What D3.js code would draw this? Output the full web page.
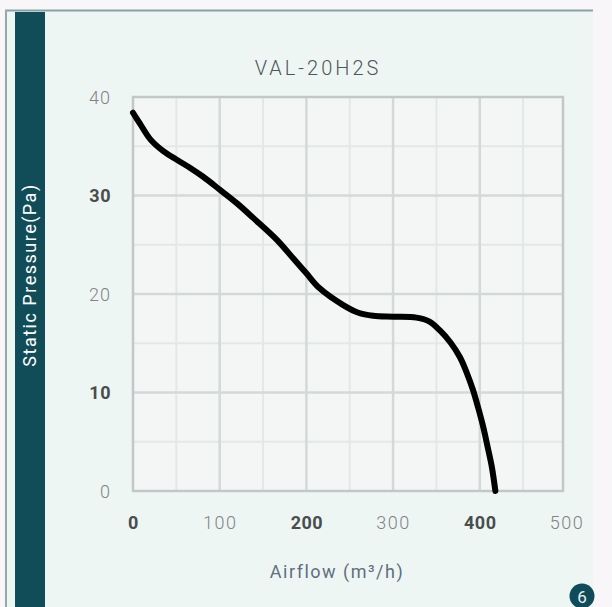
<!DOCTYPE html>
<html>
<head>
<meta charset="utf-8">
<script src="https://cdn.jsdelivr.net/npm/d3@7"></script>
<style>
  html, body { margin: 0; padding: 0; background: #f9f6fa; }
  svg { display: block; }
</style>
</head>
<body>
<svg id="chart" width="612" height="607"></svg>
<script>
// ---- data ----
const title = "VAL-20H2S";
const xLabel = "Airflow (m\u00B3/h)";
const yLabel = "Static Pressure(Pa)";
const xTicks = [0, 100, 200, 300, 400, 500];
const yTicks = [0, 10, 20, 30, 40];
const boldTicksX = [0, 200, 400];
const boldTicksY = [10, 30];
const airflow  = [0,    8,    20,   35,   51,   66,   81,   100,  120,  139,  166,  185,  200,  215,  242,  260,  277,  300,  327,  342,  354,  366,  377,  385,  392,  398,  404,  409,  414,  418];
const pressure = [38.4, 37.3, 35.7, 34.5, 33.6, 32.8, 31.9, 30.6, 29.2, 27.7, 25.5, 23.6, 22.1, 20.6, 18.9, 18.1, 17.8, 17.7, 17.6, 17.2, 16.3, 15.1, 13.6, 12.0, 10.3, 8.5,  6.5,  4.5,  2.4,  0.0];

// ---- layout ----
const svg = d3.select("#chart");
const W = 612, H = 607;
const plot = { left: 133, right: 563, top: 97, bottom: 491 };
const FONT = "Roboto, 'DejaVu Sans', sans-serif";

const x = d3.scaleLinear().domain([0, 496]).range([plot.left, plot.right]);
const y = d3.scaleLinear().domain([0, 40]).range([plot.bottom, plot.top]);

// card background
svg.append("rect").attr("x", 5).attr("y", 10).attr("width", 588).attr("height", H - 10)
  .attr("fill", "#eef6f4");
svg.append("line").attr("x1", 5).attr("x2", 593).attr("y1", 10.5).attr("y2", 10.5)
  .attr("stroke", "#86a3a3").attr("stroke-width", 2);
svg.append("line").attr("x1", 6).attr("x2", 6).attr("y1", 10).attr("y2", H)
  .attr("stroke", "#93aaa8").attr("stroke-width", 2);
// dark side bar
svg.append("rect").attr("x", 15).attr("y", 12).attr("width", 30).attr("height", H - 12)
  .attr("fill", "#114d59");

// plot area
svg.append("rect").attr("x", plot.left).attr("y", plot.top)
  .attr("width", plot.right - plot.left).attr("height", plot.bottom - plot.top)
  .attr("fill", "#f3f6f5");

// minor grid
const minorX = d3.range(50, 500, 100);
const minorY = d3.range(5, 40, 10);
svg.append("g").selectAll("line").data(minorX).join("line")
  .attr("x1", d => x(d)).attr("x2", d => x(d)).attr("y1", plot.top).attr("y2", plot.bottom)
  .attr("stroke", "#e3e8e7").attr("stroke-width", 2);
svg.append("g").selectAll("line").data(minorY).join("line")
  .attr("y1", d => y(d)).attr("y2", d => y(d)).attr("x1", plot.left).attr("x2", plot.right)
  .attr("stroke", "#e3e8e7").attr("stroke-width", 2);
// major grid
svg.append("g").selectAll("line").data(xTicks.filter(d => d > 0 && d < 500)).join("line")
  .attr("x1", d => x(d)).attr("x2", d => x(d)).attr("y1", plot.top).attr("y2", plot.bottom)
  .attr("stroke", "#d4d9d8").attr("stroke-width", 2.5);
svg.append("g").selectAll("line").data(yTicks.filter(d => d > 0 && d < 40)).join("line")
  .attr("y1", d => y(d)).attr("y2", d => y(d)).attr("x1", plot.left).attr("x2", plot.right)
  .attr("stroke", "#d4d9d8").attr("stroke-width", 2.5);
// border
svg.append("rect").attr("x", plot.left).attr("y", plot.top)
  .attr("width", plot.right - plot.left).attr("height", plot.bottom - plot.top)
  .attr("fill", "none").attr("stroke", "#c2c8c7").attr("stroke-width", 2.5);

// axes (D3 axis generators, styled)
const xAxis = svg.append("g").attr("transform", `translate(0,${plot.bottom + 32})`)
  .call(d3.axisBottom(x).tickValues(xTicks).tickSize(0).tickPadding(0).tickFormat(d3.format("d")));
xAxis.select(".domain").remove();
xAxis.selectAll("text")
  .attr("dy", "0.35em").attr("y", 0)
  .style("font-family", FONT)
  .style("font-size", "18px")
  .style("letter-spacing", d => boldTicksX.includes(d) ? "0.5px" : "1.5px")
  .style("font-weight", d => boldTicksX.includes(d) ? "700" : "300")
  .attr("fill", d => boldTicksX.includes(d) ? "#4a4d4d" : "#7f8484");

const yAxis = svg.append("g").attr("transform", `translate(111,0)`)
  .call(d3.axisLeft(y).tickValues(yTicks).tickSize(0).tickPadding(0).tickFormat(d3.format("d")));
yAxis.select(".domain").remove();
yAxis.selectAll("text")
  .attr("dy", "0.35em")
  .style("font-family", FONT)
  .style("font-size", "18px")
  .style("letter-spacing", d => boldTicksY.includes(d) ? "0.5px" : "1px")
  .style("font-weight", d => boldTicksY.includes(d) ? "700" : "300")
  .attr("fill", d => boldTicksY.includes(d) ? "#4a4d4d" : "#7f8484");

// curve
const pts = airflow.map((a, i) => [a, pressure[i]]);
const line = d3.line().x(d => x(d[0])).y(d => y(d[1])).curve(d3.curveCatmullRom.alpha(0.5));
svg.append("path").datum(pts).attr("d", line)
  .attr("fill", "none").attr("stroke", "#000").attr("stroke-width", 6)
  .attr("stroke-linecap", "round").attr("stroke-linejoin", "round");

// title
svg.append("text").attr("x", 318).attr("y", 68).attr("text-anchor", "middle")
  .attr("dominant-baseline", "central")
  .style("font-family", FONT).style("font-size", "20px").style("font-weight", "300")
  .style("letter-spacing", "3px")
  .attr("fill", "#4f5557").text(title);

// x label
svg.append("text").attr("x", 337).attr("y", 571).attr("text-anchor", "middle")
  .attr("dominant-baseline", "central")
  .style("font-family", FONT).style("font-size", "18px")
  .style("letter-spacing", "1.5px")
  .attr("fill", "#5d6f80").text(xLabel);

// y label
svg.append("text").attr("transform", "translate(29,275) rotate(-90)").attr("text-anchor", "middle")
  .attr("dominant-baseline", "central")
  .style("font-family", FONT).style("font-size", "18px")
  .style("letter-spacing", "1.5px")
  .attr("fill", "#ffffff").text(yLabel);

// badge
svg.append("circle").attr("cx", 582).attr("cy", 596).attr("r", 12.5).attr("fill", "#0f4b59");
svg.append("text").attr("x", 582).attr("y", 597).attr("text-anchor", "middle")
  .attr("dominant-baseline", "central")
  .style("font-family", FONT).style("font-size", "17px")
  .attr("fill", "#e8f0f0").text("6");
</script>
</body>
</html>
